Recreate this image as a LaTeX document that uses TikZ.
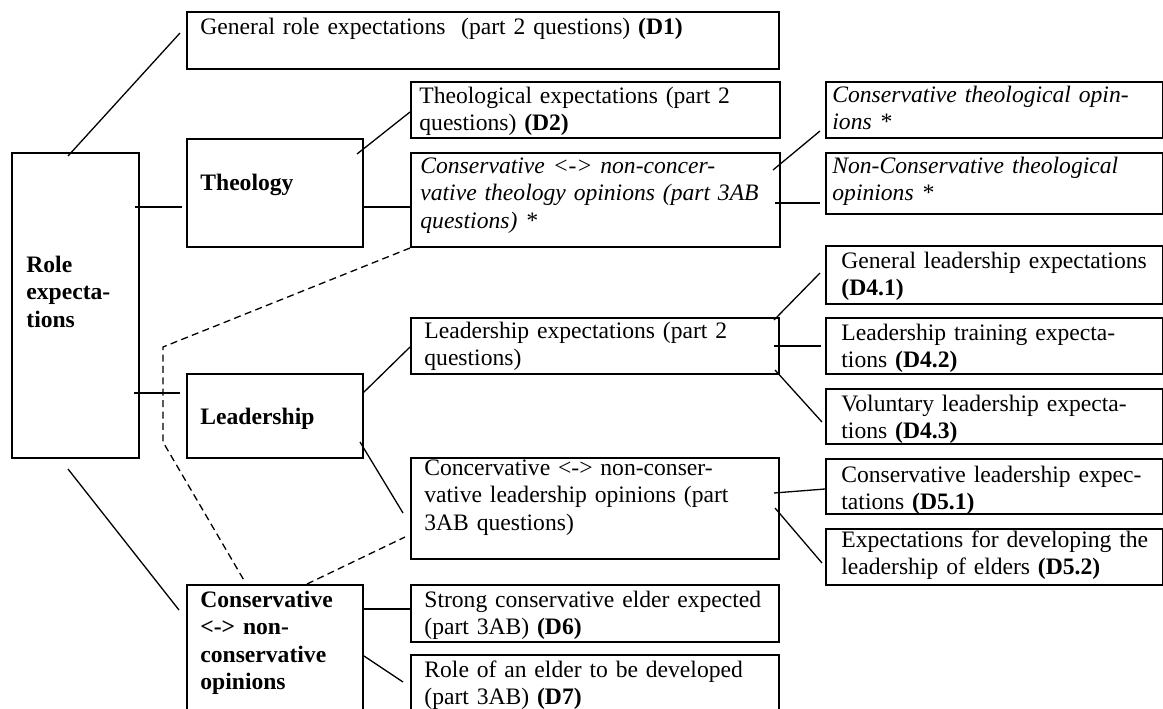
\documentclass[tikz,border=0pt]{standalone}
\usepackage{fontspec}
\setmainfont{Liberation Serif}

\tikzset{
  boite/.style={draw, line width=1pt, anchor=north west, inner sep=0pt},
  texte/.style={anchor=base west, inner sep=0pt, align=left, text width=330pt,
                font=\fontsize{11.8}{13.75}\selectfont},
  lien/.style={line width=.65pt},
  pointille/.style={line width=.65pt, dash pattern=on 3.5pt off 2.2pt},
}

\begin{document}
\begin{tikzpicture}[x=0.5pt, y=-0.5pt]
    % cadre
    \useasboundingbox (0,0) rectangle (1163,708);
    \clip (0,0) rectangle (1163,708);
    % colonne de gauche
    \node[boite, minimum width=63.5pt, minimum height=152.5pt] (role) at (11,152) {};
    \node[boite, minimum width=88pt, minimum height=54pt] (theo) at (186,138) {};
    \node[boite, minimum width=88pt, minimum height=42pt] (lead) at (186,373) {};
    \node[boite, minimum width=88pt, minimum height=65pt] (cop) at (186,584) {};
    % colonne du milieu
    \node[boite, minimum width=296pt, minimum height=28.5pt] (d1) at (186,11) {};
    \node[boite, minimum width=184.5pt, minimum height=28pt] (d2) at (410,81) {};
    \node[boite, minimum width=184.5pt, minimum height=47pt] (cth) at (410,152) {};
    \node[boite, minimum width=184pt, minimum height=28pt] (lex) at (410,317) {};
    \node[boite, minimum width=184pt, minimum height=50.5pt] (cle) at (410,457) {};
    \node[boite, minimum width=184pt, minimum height=28.5pt] (d6) at (410,584) {};
    \node[boite, minimum width=184pt, minimum height=30pt] (d7) at (410,654) {};
    % colonne de droite
    \node[boite, minimum width=168.5pt, minimum height=28pt] (cto) at (825,81) {};
    \node[boite, minimum width=168.5pt, minimum height=30.5pt] (nco) at (825,152) {};
    \node[boite, minimum width=168.5pt, minimum height=29pt] (d41) at (825,245) {};
    \node[boite, minimum width=168.5pt, minimum height=28pt] (d42) at (825,317) {};
    \node[boite, minimum width=168.5pt, minimum height=27.5pt] (d43) at (825,388) {};
    \node[boite, minimum width=168.5pt, minimum height=27.5pt] (d51) at (825,458) {};
    \node[boite, minimum width=168.5pt, minimum height=28pt] (d52) at (825,528) {};

    % textes
    \node[texte] (trole) at ([shift={(15,120)}]role.north west) {\textbf{Role}\\ \textbf{expecta-}\\ \textbf{tions}};
    \node[texte] (ttheo) at ([shift={(14,52)}]theo.north west) {\textbf{Theology}};
    \node[texte] (tlead) at ([shift={(14,51)}]lead.north west) {\textbf{Leadership}};
    \node[texte] (tcop) at ([shift={(14,23)}]cop.north west) {\textbf{Conservative}\\ \textbf{<-> non-}\\ \textbf{conservative}\\ \textbf{opinions}};
    \node[texte] (td1) at ([shift={(14,23)}]d1.north west) {General role expectations~ (part 2 questions) \textbf{(D1)}};
    \node[texte] (td2) at ([shift={(9,22)}]d2.north west) {Theological expectations (part 2\\ questions) \textbf{(D2)}};
    \node[texte] (tcth) at ([shift={(10,21)}]cth.north west) {\itshape Conservative <-> non-concer-\\ \itshape vative theology opinions (part 3AB\\ \itshape questions) *};
    \node[texte] (tlex) at ([shift={(14,21)}]lex.north west) {Leadership expectations (part 2\\ questions)};
    \node[texte] (tcle) at ([shift={(14,18)}]cle.north west) {Concervative <-> non-conser-\\ vative leadership opinions (part\\ 3AB questions)};
    \node[texte] (td6) at ([shift={(14,23)}]d6.north west) {Strong conservative elder expected\\ (part 3AB) \textbf{(D6)}};
    \node[texte] (td7) at ([shift={(14,23)}]d7.north west) {Role of an elder to be developed\\ (part 3AB) \textbf{(D7)}};
    \node[texte] (tcto) at ([shift={(7,21)}]cto.north west) {\itshape Conservative theological opin-\\ \itshape ions *};
    \node[texte] (tnco) at ([shift={(7,21)}]nco.north west) {\itshape Non-Conservative theological\\ \itshape opinions *};
    \node[texte] (td41) at ([shift={(16,23)}]d41.north west) {General leadership expectations\\ \textbf{(D4.1)}};
    \node[texte] (td42) at ([shift={(16,23)}]d42.north west) {Leadership training expecta-\\ tions \textbf{(D4.2)}};
    \node[texte] (td43) at ([shift={(16,23)}]d43.north west) {Voluntary leadership expecta-\\ tions \textbf{(D4.3)}};
    \node[texte] (td51) at ([shift={(16,24)}]d51.north west) {Conservative leadership expec-\\ tations \textbf{(D5.1)}};
    \node[texte] (td52) at ([shift={(16,19)}]d52.north west) {Expectations for developing the\\ leadership of elders \textbf{(D5.2)}};

    % liens depuis Role expectations
    \draw[lien] ([shift={(57,4)}]role.north west) -- ([shift={(-6,22)}]d1.north west);
    \draw[lien] ([shift={(-5,55)}]role.north east) -- ([shift={(-4,69)}]theo.north west);
    \draw[lien] ([shift={(-6,241)}]role.north east) -- ([shift={(-6,20)}]lead.north west);
    \draw[lien] ([shift={(57,10)}]role.south west) -- ([shift={(-7,26)}]cop.north west);
    % theologie
    \draw[lien] ([shift={(-7,16)}]theo.north east) -- ([shift={(0,31)}]d2.north west);
    \draw[lien] ([shift={(0,69)}]theo.north east) -- ([shift={(0,55)}]cth.north west);
    \draw[lien] ([shift={(-8,18)}]cth.north east) -- ([shift={(-5,50)}]cto.north west);
    \draw[lien] ([shift={(-6,51)}]cth.north east) -- ([shift={(-5,51)}]nco.north west);
    % leadership
    \draw[lien] ([shift={(-1,20)}]lead.north east) -- ([shift={(0,30)}]lex.north west);
    \draw[lien] ([shift={(-4,69)}]lead.north east) -- ([shift={(-7,56)}]cle.north west);
    \draw[lien] ([shift={(-6,3)}]lex.north east) -- ([shift={(-5,28)}]d41.north west);
    \draw[lien] ([shift={(-6,29)}]lex.north east) -- ([shift={(-4,29)}]d42.north west);
    \draw[lien] ([shift={(-5,53)}]lex.north east) -- ([shift={(-3,34)}]d43.north west);
    \draw[lien] ([shift={(-6,36)}]cle.north east) -- ([shift={(0,31)}]d51.north west);
    \draw[lien] ([shift={(-5,51)}]cle.north east) -- ([shift={(-3,35)}]d52.north west);
    % conservatif
    \draw[lien] ([shift={(0,25)}]cop.north east) -- ([shift={(0,25)}]d6.north west);
    \draw[lien] ([shift={(0,72)}]cop.north east) -- ([shift={(-7,28)}]d7.north west);
    % pointilles
    \draw[pointille] (cth.south west) -- ([shift={(-247,99)}]cth.south west) -- ++(0,95) -- ([shift={(59,-2)}]cop.north west);
    \draw[pointille] ([shift={(121,0)}]cop.north west) -- ([shift={(-5,80)}]cle.north west);
\end{tikzpicture}
\end{document}
